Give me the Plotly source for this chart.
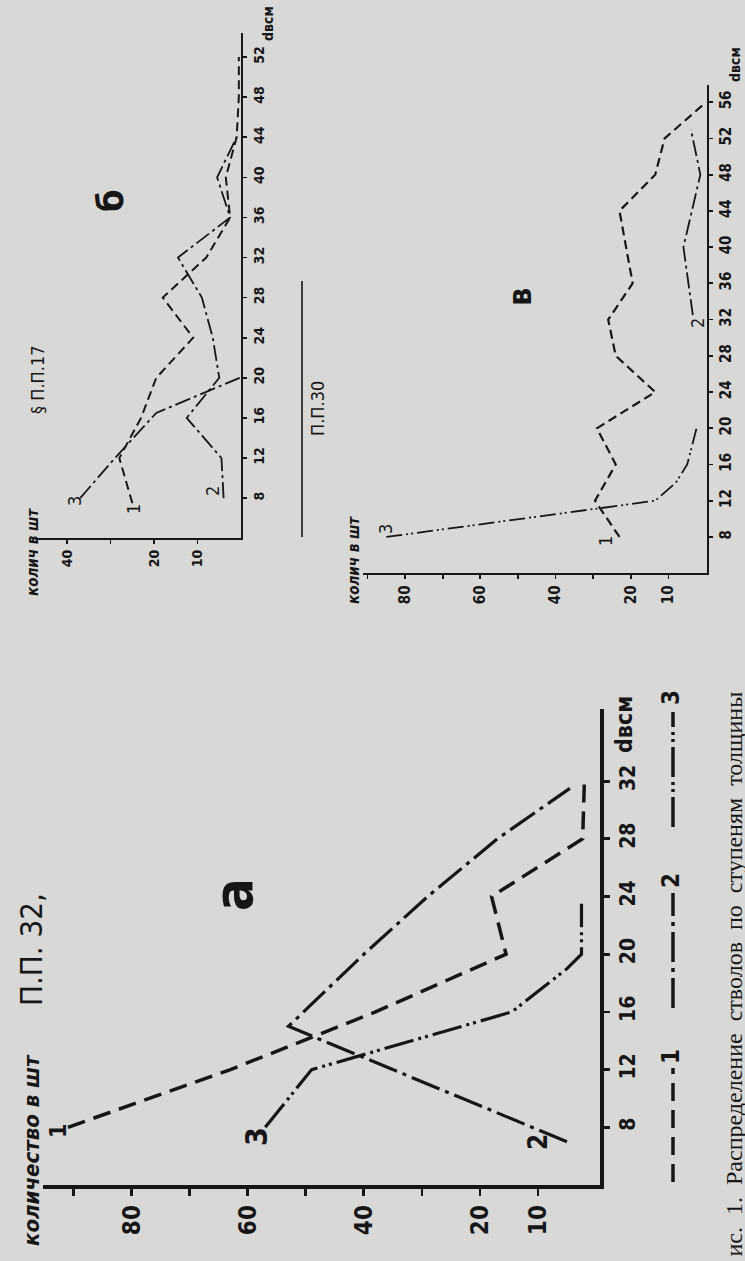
import plotly.graph_objects as go

W, H = 745, 1261

# ---------------- data ----------------
# Panel а — П.П. 32 : d (cm) vs number of stems
a_d1 = [8, 12, 16, 20, 24, 28, 32]
a_n1 = [91, 63, 38, 15.5, 18, 2.3, 2]
a_d2 = [7, 15, 20, 24, 28, 31.5]
a_n2 = [5, 53, 40, 29, 17, 4.5]
a_d3 = [8, 12, 16, 19, 20, 23.5]
a_n3 = [57, 49, 14.5, 5, 2.5, 2.5]
a_dticks = [8, 12, 16, 20, 24, 28, 32]
a_nticks = [10, 20, 30, 40, 50, 60, 70, 80, 90]
a_nlabels = ["10", "20", "", "40", "", "60", "", "80", ""]

# Panel б — П.П. 17
b_d1 = [7.5, 12, 16, 20, 24, 28, 32, 36, 40, 44, 48, 52]
b_n1 = [25, 28, 23, 19.5, 11, 18, 8, 2.5, 3.5, 1, 0.5, 0.5]
b_d2 = [8, 12, 16, 20, 24, 28, 32, 36, 40, 44]
b_n2 = [4, 4.5, 12.5, 5, 6.5, 9, 14.5, 2.5, 5.5, 1]
b_d3 = [8, 12, 16.5, 20]
b_n3 = [37, 29, 19.5, 0.3]
b_dticks = [8, 12, 16, 20, 24, 28, 32, 36, 40, 44, 48, 52]
b_nticks = [10, 20, 30, 40]
b_nlabels = ["10", "20", "", "40"]

# Panel в — П.П. 30
c_d1 = [8, 12, 16, 20, 24, 28, 32, 36, 44, 48, 52, 56]
c_n1 = [23, 29.5, 24, 29, 13.5, 24, 26, 19.5, 23, 13.5, 11, 0]
c_d2 = [32.5, 40, 48, 53]
c_n2 = [3.5, 6, 1.5, 4]
c_d3 = [8, 12, 14, 16, 20]
c_n3 = [85, 13.5, 8, 5, 2.5]
c_dticks = [8, 12, 16, 20, 24, 28, 32, 36, 40, 44, 48, 52, 56]
c_nticks = [10, 20, 30, 40, 50, 60, 70, 80, 90]
c_nlabels = ["10", "20", "", "40", "", "60", "", "80", ""]

SP = "\u2002"
caption = SP.join(["ис.", "1.", "Распределение", "стволов", "по", "ступеням", "толщины"])

# ---------------- styling ----------------
BG = "#d8d8d6"
INK = "#161616"
COND = "Liberation Sans Narrow, DejaVu Sans Condensed, Arial Narrow, sans-serif"
SERIF = "Liberation Serif, DejaVu Serif, Times New Roman, serif"

def X(px):
    return px / W

def Y(py):
    return 1 - py / H

DASH_BIG = {1: "18px,9px", 2: "30px,6px,4px,6px", 3: "30px,5px,3px,4px,3px,5px"}
DASH_SMALL = {1: "9px,5px", 2: "16px,4px,3px,4px", 3: "16px,4px,2px,3px,2px,4px"}

fig = go.Figure()

def add_series(d, n, xa, ya, dash, width):
    fig.add_trace(go.Scatter(
        x=n, y=d, xaxis=xa, yaxis=ya, mode="lines",
        line=dict(color=INK, width=width, dash=dash),
        showlegend=False, hoverinfo="skip"))

add_series(a_d1, a_n1, "x", "y", DASH_BIG[1], 3.5)
add_series(a_d2, a_n2, "x", "y", DASH_BIG[2], 3.2)
add_series(a_d3, a_n3, "x", "y", DASH_BIG[3], 3.2)

add_series(b_d1, b_n1, "x2", "y2", DASH_SMALL[1], 2)
add_series(b_d2, b_n2, "x2", "y2", DASH_SMALL[2], 1.8)
add_series(b_d3, b_n3, "x2", "y2", DASH_SMALL[2], 1.8)

add_series(c_d1, c_n1, "x3", "y3", DASH_SMALL[1], 2.2)
add_series(c_d2, c_n2, "x3", "y3", DASH_SMALL[2], 1.8)
add_series(c_d3, c_n3, "x3", "y3", DASH_SMALL[3], 1.8)

def count_axis(domain, rng, anchor, tv, tt, lw, fs, tl):
    return dict(domain=domain, range=rng, anchor=anchor, showline=True,
                linecolor=INK, linewidth=lw, ticks="outside", tickvals=tv,
                ticktext=tt, tickangle=-90, ticklen=tl, tickwidth=lw * 0.8,
                tickcolor=INK, showgrid=False, zeroline=False, fixedrange=True,
                tickfont=dict(family=COND, size=fs, color=INK, weight="bold"))

def d_axis(domain, rng, anchor, tv, lw, fs, tl):
    return dict(domain=domain, range=rng, anchor=anchor, side="right",
                showline=True, linecolor=INK, linewidth=lw, ticks="outside",
                tickvals=tv, tickangle=-90, ticklen=tl, tickwidth=lw * 0.8,
                tickcolor=INK, showgrid=False, zeroline=False, fixedrange=True,
                tickfont=dict(family=COND, size=fs, color=INK, weight="bold"))

layout = dict(
    width=W, height=H, margin=dict(l=0, r=0, t=0, b=0),
    paper_bgcolor=BG, plot_bgcolor="rgba(0,0,0,0)", showlegend=False,
    xaxis=count_axis([X(43), X(600)], [95.3, -0.69], "y", a_nticks, a_nlabels, 3.5, 24, 7),
    yaxis=d_axis([Y(1185), Y(709)], [4, 37], "x", a_dticks, 3.5, 21, 6),
    xaxis2=count_axis([X(35), X(241)], [47.4, 0], "y2", b_nticks, b_nlabels, 2, 14, 4),
    yaxis2=d_axis([Y(538.2), Y(33)], [4, 54.4], "x2", b_dticks, 2, 14, 4),
    xaxis3=count_axis([X(363), X(707)], [91.2, -0.27], "y3", c_nticks, c_nlabels, 2.2, 15, 4),
    yaxis3=d_axis([Y(573.2), Y(85)], [4, 57.9], "x3", c_dticks, 2.2, 15, 4),
)
fig.update_layout(**layout)

ann = []

def text(px, py, s, size, family=COND, bold=True, italic=False, angle=-90):
    ann.append(dict(x=X(px), y=Y(py), xref="paper", yref="paper", text=s,
                    showarrow=False, textangle=angle, xanchor="center",
                    yanchor="middle",
                    font=dict(family=family, size=size, color=INK,
                              weight="bold" if bold else "normal",
                              style="italic" if italic else "normal")))

# panel а texts
text(31, 1150, "количество в шт", 22, italic=True)
text(31, 950, "П.П. 32,", 31, bold=False)
text(233, 895, "а", 54)
text(624, 725, "dвсм", 23)
text(58, 1131, "1", 23)
text(256, 1137, "3", 30)
text(538, 1142, "2", 26)

# legend of panel а
leg = [(1, 1182, 1068, 1057), (2, 1008, 893, 881), (3, 827, 712, 698)]
shapes = []
for k, y0, y1, ylab in leg:
    shapes.append(dict(type="line", xref="paper", yref="paper",
                       x0=X(673), x1=X(673), y0=Y(y0), y1=Y(y1),
                       line=dict(color=INK, width=3.5, dash=DASH_BIG[k])))
    text(671, ylab, str(k), 24)

# caption
ann.append(dict(x=X(733), y=Y(1259), xref="paper", yref="paper", text=caption,
                showarrow=False, textangle=-90, xanchor="center", yanchor="bottom",
                font=dict(family=SERIF, size=24, color=INK)))

# panel б texts
text(33, 552, "колич в шт", 15, italic=True)
text(37, 380, "§ П.П.17", 18, bold=False)
text(110, 201, "б", 36)
text(268, 24, "dвсм", 14)
text(75, 501, "3", 18, bold=False)
text(133, 509, "1", 18, bold=False)
text(213, 491, "2", 18, bold=False)

# separator and panel в texts
shapes.append(dict(type="line", xref="paper", yref="paper", x0=X(302), x1=X(302),
                   y0=Y(281), y1=Y(537), line=dict(color=INK, width=1.6)))
text(318, 409, "П.П.30", 18, bold=False)
text(354, 560, "колич в шт", 15, italic=True)
text(520, 297, "в", 32)
text(735, 65, "dвсм", 14)
text(385, 529, "3", 18, bold=False)
text(605, 541, "1", 18, bold=False)
text(697, 323, "2", 18, bold=False)

fig.update_layout(annotations=ann, shapes=shapes)

fig.write_html("out.html", config={"displayModeBar": False, "staticPlot": True},
               post_script="document.body.style.margin='0';document.body.style.overflow='hidden';")
